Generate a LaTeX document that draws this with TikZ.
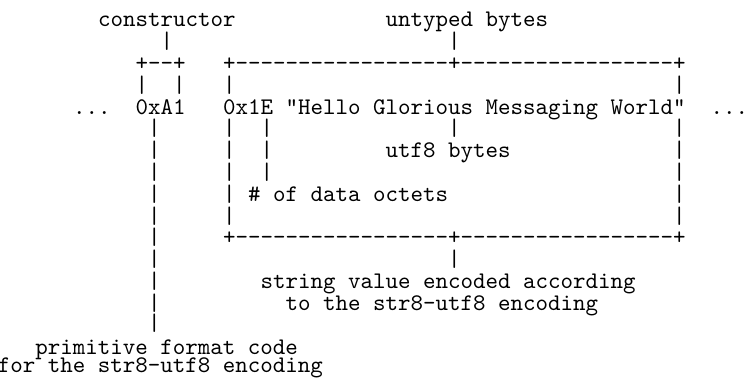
\documentclass[tikz,border=0pt]{standalone}
\begin{document}
\begin{tikzpicture}[x=0.42pt,y=-0.42pt,
  t/.style={anchor=base west,inner sep=0pt,outer sep=0pt,font=\ttfamily\fontsize{10}{12}\selectfont}]
\useasboundingbox[fill=white] (0,0) rectangle (745,379);
% row 1
\node[t] (constructor) at (98,27) {constructor};
\node[t] (untyped) at (385.5,27) {untyped bytes};
% row 2
\node[t] (p2a) at (160.5,48.8) {|};
\node[t] (p2b) at (448,48.8) {|};
% row 3
\node[t] (ctopbar) at (135.5,70.6) {+--+};
\node[t] (boxtop) at (223,70.6) {+-----------------+-----------------+};
% row 4
\node[t] (p4a) at (135.5,92.4) {|};
\node[t] (p4b) at (173,92.4) {|};
\node[t] (p4c) at (223,92.4) {|};
\node[t] (p4d) at (673,92.4) {|};
% row 5
\node[t] (dotsl) at (73,114.2) {...};
\node[t] (code) at (135.5,114.2) {0xA1};
\node[t] (payload) at (223,114.2) {0x1E "Hello Glorious Messaging World"};
\node[t] (dotsr) at (710.5,114.2) {...};
% rows 6-15
\foreach \y/\n in {136/6,157.8/7,179.6/8,201.4/9,223.2/10,245/11,266.8/12,288.6/13,310.4/14,330.5/15}
  \node[t] (pl\n) at (148,\y) {|};
\foreach \y/\n in {136/6,157.8/7,179.6/8,201.4/9,223.2/10}
  \node[t] (pb\n) at (223,\y) {|};
\foreach \y/\n in {136/6,157.8/7,179.6/8}
  \node[t] (pc\n) at (260.5,\y) {|};
\foreach \y/\n in {136/6,157.8/7,179.6/8,201.4/9,223.2/10}
  \node[t] (pr\n) at (673,\y) {|};
\node[t] (pm6) at (448,136) {|};
\node[t] (utf) at (385.5,157.8) {utf8 bytes};
\node[t] (octets) at (248,201.4) {\# of data octets};
% row 11
\node[t] (boxbot) at (223,245) {+-----------------+-----------------+};
% row 12
\node[t] (pm12) at (448,266.8) {|};
% rows 13-14
\node[t] (strval) at (260.5,288.6) {string value encoded according};
\node[t] (strval2) at (285.5,310.4) {to the str8-utf8 encoding};
% rows 16-17
\node[t] (prim) at (35.5,354.5) {primitive format code};
\node[t] (prim2) at (-2,373) {for the str8-utf8 encoding};
\end{tikzpicture}
\end{document}
